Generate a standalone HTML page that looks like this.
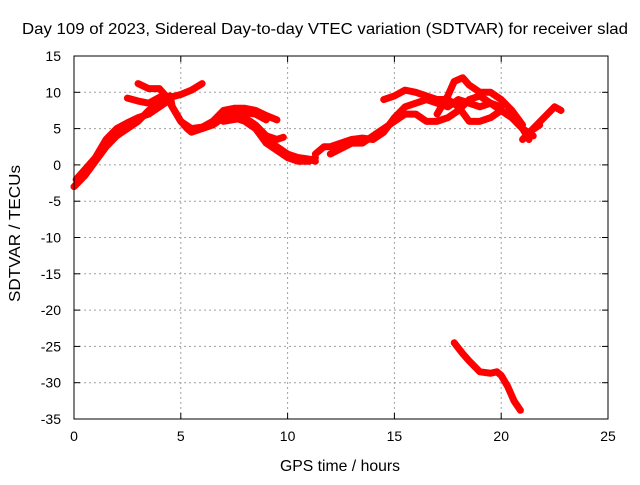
<!DOCTYPE html>
<html><head><meta charset="utf-8"><style>
body{margin:0;background:#fff}
svg text{font-family:"Liberation Sans",sans-serif;font-size:14px;fill:#000}
</style></head><body>
<svg id="chart" width="640" height="480">
<text x="22" y="34" textLength="606" lengthAdjust="spacingAndGlyphs" style="font-size:16px">Day 109 of 2023, Sidereal Day-to-day VTEC variation (SDTVAR) for receiver slad</text>
<text x="280" y="471" textLength="120" lengthAdjust="spacingAndGlyphs" style="font-size:16px">GPS time / hours</text>
<text transform="translate(20,302) rotate(-90)" textLength="137" lengthAdjust="spacingAndGlyphs" style="font-size:16px">SDTVAR / TECUs</text>
<g id="grid"></g><g id="series"></g><g id="axes"></g>
</svg>
<script>
const xTicks=[0,5,10,15,20,25];
const yTicks=[-35,-30,-25,-20,-15,-10,-5,0,5,10,15];
const s1=[[0,-3],[0.5,-1.5],[1,0.5],[1.5,2.5],[2,4],[2.5,5],[3,6],[3.5,7.5],[4,8.5],[4.5,9.3],[5,9.7],[5.5,10.3],[6,11.2]];
const s2=[[0.1,-2],[1,1],[1.5,3.5],[2,5],[2.5,5.8],[3,6.5],[3.5,7],[4,8],[4.5,9]];
const s3=[[2.5,9.2],[3,8.8],[3.5,8.5],[4,9.3],[4.5,9.5],[4.6,8],[5,6],[5.3,5],[5.5,4.5],[6,5],[6.5,5.5],[7,6.5],[7.5,7],[8,7.2],[8.5,7],[9,6.2]];
const s4=[[3,11.2],[3.5,10.5],[4,10.5],[4.3,9.5],[4.7,7.5],[5,6],[5.5,5],[6,5.2],[6.5,6],[7,7.5],[7.5,7.8],[8,7.8],[8.5,7.5],[9,6.8],[9.5,6.2]];
const s5=[[6,5],[6.5,6],[7,6.5],[7.5,6.5],[8,6],[8.5,5],[9,3.5],[9.5,2.5],[10,1.5],[10.5,1],[11,0.8],[11.3,0.5]];
const s6=[[7,6],[8,6.5],[8.5,5.5],[9,4],[9.5,3.5],[9.8,3.8]];
const s7=[[8.5,5],[9,3],[9.5,2],[10,1],[10.5,0.5],[11,0.5],[11.3,1]];
const s8=[[11.3,1.5],[11.7,2.5],[12,2.5],[12.5,3],[13,3.5],[13.5,3.7],[14,3.5],[14.5,4.5],[15,6.5],[15.5,8],[16,8.5],[16.5,9],[17,8.5],[17.5,8],[18,9],[18.5,8.5],[19,8],[19.5,8.5],[20,7.5],[20.5,6.5],[21,5],[21.5,4]];
const s9=[[12,1.5],[13,3],[13.5,3],[14,4],[14.5,5],[15,6],[15.5,7],[16,7],[16.5,6],[17,6],[17.5,6.5],[18,7.5],[18.5,9],[19,9.5],[19.5,8.5],[20,8]];
const s10=[[14.5,9],[15,9.5],[15.5,10.3],[16,10],[16.5,9.5],[17,9],[17.5,9],[18,8],[18.5,6],[19,6],[19.5,6.5],[20,7.5],[20.5,6.5],[21,5],[21.3,3.5]];
const s11=[[17,7],[17.5,9.5],[17.8,11.5],[18.2,12],[18.5,11],[19,10],[19.5,10],[20,9],[20.5,7.5],[21,5.5]];
const s12=[[21,3.5],[21.5,5],[22,6.5],[22.5,8],[22.8,7.5]];
const s13=[[21.3,4.5],[21.8,5.5]];
const s14=[[17.8,-24.5],[18.2,-26],[18.5,-27],[19,-28.5],[19.5,-28.7],[19.8,-28.5],[20,-29],[20.3,-30.5],[20.6,-32.5],[20.9,-33.8]];
const allSeries=[s1,s2,s3,s4,s5,s6,s7,s8,s9,s10,s11,s12,s13,s14];
const X0=74,X1=608,Y0=419,Y1=56;
const xs=v=>X0+(v-0)/(25-0)*(X1-X0);
const ys=v=>Y0-(v+35)/(15+35)*(Y0-Y1);
const NS="http://www.w3.org/2000/svg";
function mk(t,a,p){const e=document.createElementNS(NS,t);for(const k in a)e.setAttribute(k,a[k]);p.appendChild(e);return e;}
const grid=document.getElementById('grid'),axes=document.getElementById('axes'),ser=document.getElementById('series');
xTicks.forEach(v=>{
 const x=xs(v);
 if(v>0&&v<25){const g=mk('line',{x1:x,x2:x,y1:Y0,y2:Y1,stroke:'#a0a0a0','stroke-dasharray':'2,3'},grid);
 
 }
 mk('line',{x1:x,x2:x,y1:Y0,y2:Y0-6,stroke:'#000'},axes);
 mk('line',{x1:x,x2:x,y1:Y1,y2:Y1+6,stroke:'#000'},axes);
 const t=mk('text',{x:x,y:Y0+22,'text-anchor':'middle'},axes);t.textContent=v;
 
 
});
yTicks.forEach(v=>{
 const y=ys(v);
 if(v>-35&&v<15){const g=mk('line',{x1:X0,x2:X1,y1:y,y2:y,stroke:'#a0a0a0','stroke-dasharray':'2,3'},grid);
 
 }
 mk('line',{x1:X0,x2:X0+6,y1:y,y2:y,stroke:'#000'},axes);
 mk('line',{x1:X1,x2:X1-6,y1:y,y2:y,stroke:'#000'},axes);
 const t=mk('text',{x:X0-13,y:y+5,'text-anchor':'end'},axes);t.textContent=v;
 
 
});
const b=mk('rect',{x:X0,y:Y1,width:X1-X0,height:Y0-Y1,fill:'none',stroke:'#000'},axes);


allSeries.forEach(s=>{
 const p=mk('polyline',{points:s.map(d=>xs(d[0])+','+ys(d[1])).join(' '),fill:'none',stroke:'#ff0000','stroke-width':7,'stroke-linejoin':'round','stroke-linecap':'round'},ser);
 
 
});
</script>
</body></html>
